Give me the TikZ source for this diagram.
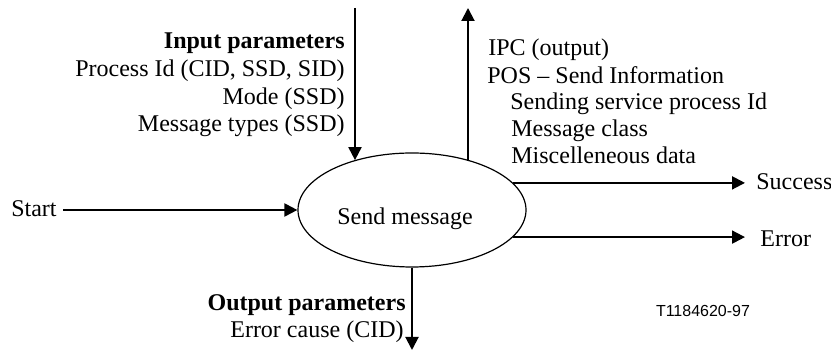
\documentclass[tikz,border=0pt]{standalone}
\usepackage{fontspec}
\setmainfont{Liberation Serif}
\newfontfamily\arialfont{Liberation Sans}
\usetikzlibrary{arrows.meta,shapes.geometric}
\begin{document}
\begin{tikzpicture}[x=0.5pt,y=-0.5pt,
  flow/.style={line width=1pt,-{Triangle[length=6.5pt,width=6.5pt]}},
  txt/.style={inner sep=0pt,font=\fontsize{12}{14}\selectfont},
  ]
\useasboundingbox (0,0) rectangle (831,351);
\node[draw, ellipse, line width=0.6pt, minimum width=114pt, minimum height=57pt, inner sep=0pt] (e) at (412,210) {};
\node[txt, anchor=base] (lbl) at (405,225) {Send message};

% coordinates for free ends
\coordinate (intop) at (355,8);
\coordinate (outtop) at (468,8);
\coordinate (dnend) at (413,350);
\coordinate (startend) at (63,210);
\coordinate (rightx) at (745,0);

% arrows
\draw[flow] (intop) -- (intop |- e.139);
\draw[flow] (outtop |- e.42) -- (outtop);
\draw[flow] (e.south) -- (e.south |- dnend);
\draw[flow] (startend) -- (e.west);
\draw[flow] (e.15.7) -- (e.15.7 -| rightx);
\draw[flow] (e.-15.7) -- (e.-15.7 -| rightx);

% left labels
\node[txt, anchor=base east] (start) at (57,217) {Start};
\node[txt, anchor=base east, font=\fontsize{12}{14}\selectfont\bfseries] (ip0) at (345,49) {Input parameters};
\node[txt, anchor=base east] (ip1) at (345,77) {Process Id (CID, SSD, SID)};
\node[txt, anchor=base east] (ip2) at (345,105) {Mode (SSD)};
\node[txt, anchor=base east] (ip3) at (345,132) {Message types (SSD)};

% right labels
\node[txt, anchor=base west] (op0) at (488,56) {IPC (output)};
\node[txt, anchor=base west] (op1) at (487,84) {POS -- Send Information};
\node[txt, anchor=base west] (op2) at (510,110) {Sending service process Id};
\node[txt, anchor=base west] (op3) at (511,137) {Message class};
\node[txt, anchor=base west] (op4) at (511,164) {Miscelleneous data};

\node[txt, anchor=base west] (succ) at (756,190) {Success};
\node[txt, anchor=base west] (err) at (760,247) {Error};

% bottom labels
\node[txt, anchor=base east, font=\fontsize{12}{14}\selectfont\bfseries] (out0) at (406,311) {Output parameters};
\node[txt, anchor=base east] (out1) at (404,338) {Error cause (CID)};

\node[inner sep=0pt, anchor=base, font=\arialfont\fontsize{8}{10}\selectfont] (code) at (703,317) {T1184620-97};
\end{tikzpicture}
\end{document}
